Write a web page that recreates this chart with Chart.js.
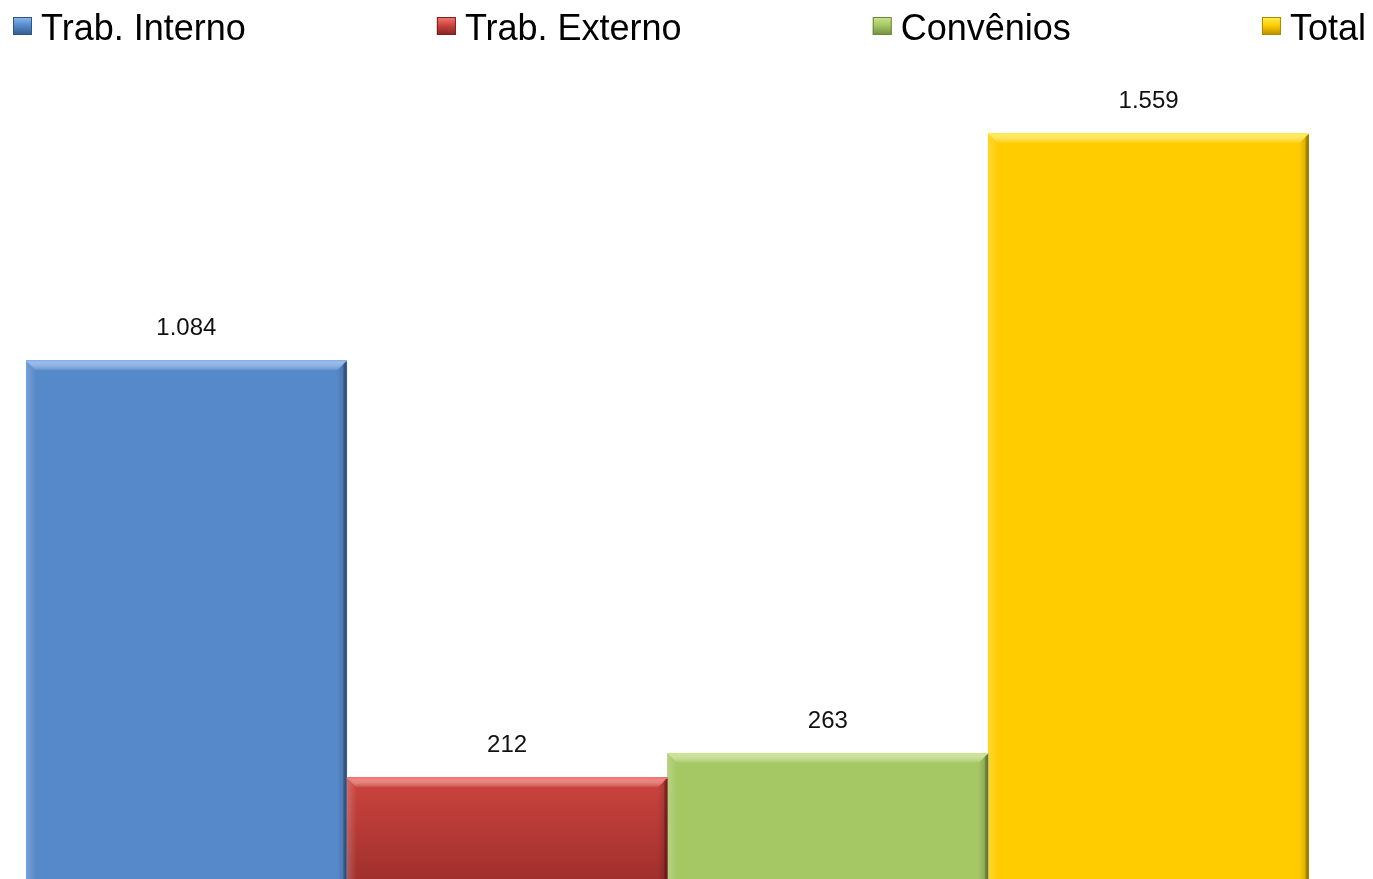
<!DOCTYPE html>
<html>
<head>
<meta charset="utf-8">
<script src="https://cdn.jsdelivr.net/npm/chart.js@4"></script>
<style>
  html, body { margin: 0; padding: 0; background: #fff; }
  #wrap { width: 1373px; height: 879px; position: relative; }
</style>
</head>
<body>
<div id="wrap"><canvas id="c"></canvas></div>
<script>
// ---- data ----
const categories = [''];
const seriesNames = ['Trab. Interno', 'Trab. Externo', 'Convênios', 'Total'];
const seriesValues = [1084, 212, 263, 1559];
const seriesColors = ['#5689CA', '#C9423E', '#A5C764', '#FFCC00'];
const seriesDark = ['#2F5584', '#7A2220', '#6C873A', '#B08800'];
const seriesLight = ['#8DBAF0', '#F47A72', '#CBE68E', '#FFEE55'];
const yMin = 0;
const yMax = 1650;

function fmt(v) {
  return String(v).replace(/\B(?=(\d{3})+(?!\d))/g, '.');
}

const bevelPlugin = {
  id: 'bevel',
  afterDatasetsDraw(chart) {
    const ctx = chart.ctx;
    chart.data.datasets.forEach((ds, i) => {
      const meta = chart.getDatasetMeta(i);
      meta.data.forEach(bar => {
        const p = bar.getProps(['x', 'y', 'width', 'base'], true);
        const l = p.x - p.width / 2, r = p.x + p.width / 2, t = p.y, b = p.base;
        const bv = 10;
        ctx.save();
        // top bevel
        const g = ctx.createLinearGradient(0, t, 0, t + bv);
        g.addColorStop(0, seriesLight[i]);
        g.addColorStop(1, 'rgba(255,255,255,0)');
        ctx.fillStyle = g;
        ctx.beginPath();
        ctx.moveTo(l, t); ctx.lineTo(r, t); ctx.lineTo(r - bv, t + bv); ctx.lineTo(l + bv, t + bv); ctx.closePath();
        ctx.fill();
        // right bevel (dark)
        const gr = ctx.createLinearGradient(r - bv, 0, r, 0);
        gr.addColorStop(0, 'rgba(0,0,0,0)');
        gr.addColorStop(0.6, 'rgba(0,0,0,0.12)');
        gr.addColorStop(1, seriesDark[i]);
        ctx.fillStyle = gr;
        ctx.beginPath();
        ctx.moveTo(r, t); ctx.lineTo(r - bv, t + bv); ctx.lineTo(r - bv, b); ctx.lineTo(r, b); ctx.closePath();
        ctx.fill();
        // left bevel (slightly lighter)
        const gl = ctx.createLinearGradient(l, 0, l + bv, 0);
        gl.addColorStop(0, 'rgba(255,255,255,0.2)');
        gl.addColorStop(1, 'rgba(255,255,255,0)');
        ctx.fillStyle = gl;
        ctx.beginPath();
        ctx.moveTo(l, t); ctx.lineTo(l + bv, t + bv); ctx.lineTo(l + bv, b); ctx.lineTo(l, b); ctx.closePath();
        ctx.fill();
        // thin outline top
        ctx.strokeStyle = seriesLight[i];
        ctx.lineWidth = 1;
        ctx.beginPath(); ctx.moveTo(l, t + 0.5); ctx.lineTo(r, t + 0.5); ctx.stroke();
        ctx.restore();

        // value label
        ctx.save();
        ctx.font = '24px "Liberation Sans", Arial, sans-serif';
        ctx.fillStyle = '#111';
        ctx.textAlign = 'center';
        ctx.textBaseline = 'middle';
        ctx.fillText(fmt(ds.data[0]), p.x, t - 32);
        ctx.restore();
      });
    });
  }
};

const legendPlugin = {
  id: 'spreadLegend',
  afterDraw(chart) {
    const ctx = chart.ctx;
    ctx.save();
    ctx.font = '36px "Liberation Sans", Arial, sans-serif';
    const box = 19, gap = 9;
    const widths = seriesNames.map(n => box + gap + ctx.measureText(n).width);
    const startX = 13, endX = 1366;
    const total = widths.reduce((a, b) => a + b, 0);
    const spacing = (endX - startX - total) / (seriesNames.length - 1);
    let x = startX;
    seriesNames.forEach((n, i) => {
      const by = 17;
      const g = ctx.createLinearGradient(x, by, x, by + box);
      g.addColorStop(0, seriesLight[i]);
      g.addColorStop(0.45, seriesColors[i]);
      g.addColorStop(1, seriesDark[i]);
      ctx.fillStyle = g;
      ctx.fillRect(x, by, box, box - 1);
      ctx.strokeStyle = seriesDark[i];
      ctx.lineWidth = 1;
      ctx.strokeRect(x + 0.5, by + 0.5, box - 1, box - 2);
      ctx.fillStyle = '#000';
      ctx.textBaseline = 'alphabetic';
      ctx.textAlign = 'left';
      ctx.fillText(n, x + box + gap, 40);
      x += widths[i] + spacing;
    });
    ctx.restore();
  }
};

const datasets = seriesNames.map((name, i) => ({
  label: name,
  data: [seriesValues[i]],
  backgroundColor: (c) => {
    const area = c.chart.chartArea;
    if (!area) return seriesColors[i];
    if (i === 1) {
      const top = c.chart.scales.y.getPixelForValue(seriesValues[i]);
      const g = c.chart.ctx.createLinearGradient(0, top, 0, area.bottom);
      g.addColorStop(0, '#CD443F');
      g.addColorStop(1, '#A0302D');
      return g;
    }
    return seriesColors[i];
  },
  borderWidth: 0,
  categoryPercentage: 1.0,
  barPercentage: 1.0
}));

new Chart(document.getElementById('c'), {
  type: 'bar',
  data: { labels: categories, datasets },
  options: {
    responsive: true,
    maintainAspectRatio: false,
    animation: false,
    layout: { padding: { top: 90, left: 26, right: 64, bottom: 0 } },
    plugins: { legend: { display: false }, tooltip: { enabled: false } },
    scales: {
      x: { display: false, grid: { display: false } },
      y: { display: false, min: yMin, max: yMax, grid: { display: false } }
    }
  },
  plugins: [bevelPlugin, legendPlugin]
});
</script>
</body>
</html>
